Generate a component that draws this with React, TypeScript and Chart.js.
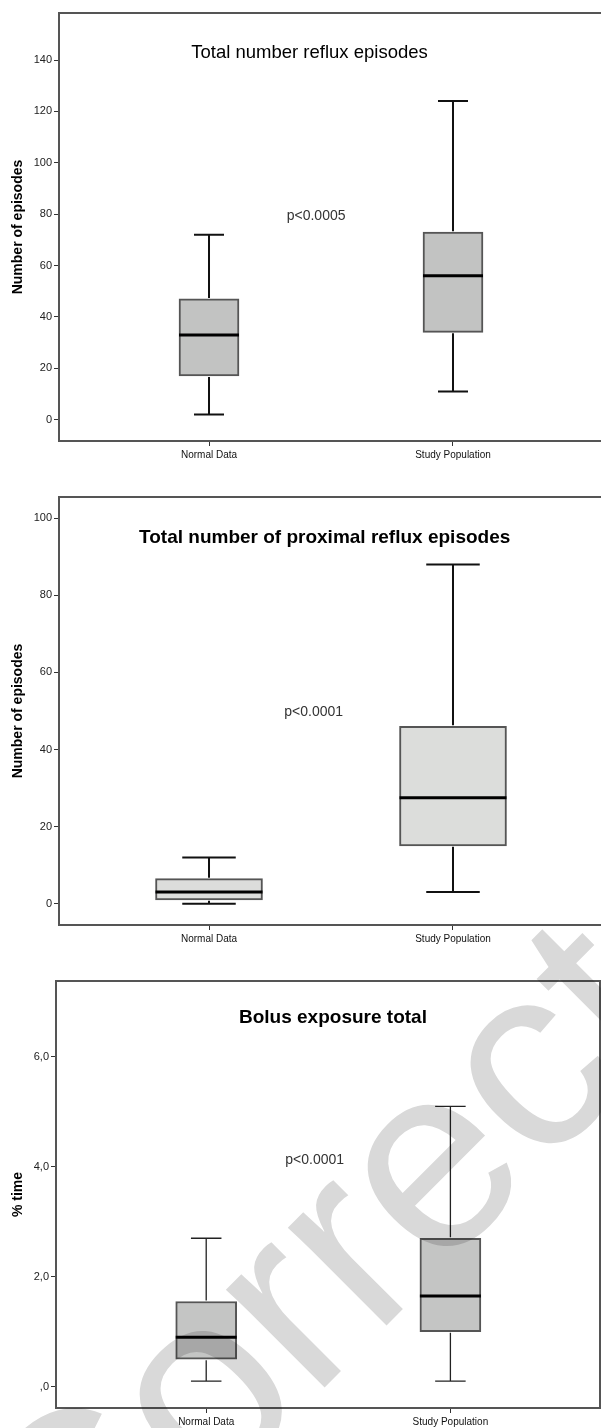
import React, { useEffect, useRef } from 'react';
import { Chart, registerables } from 'chart.js';

Chart.register(...registerables);

// ---------- data ----------
const categories = ['Normal Data', 'Study Population'];

// Panel 1: Total number reflux episodes
const refluxMin = [2, 11];
const refluxQ1 = [17, 34];
const refluxMedian = [33, 56];
const refluxQ3 = [47, 73];
const refluxMax = [72, 124];
const refluxTicks = [0, 20, 40, 60, 80, 100, 120, 140];

// Panel 2: Total number of proximal reflux episodes
const proximalMin = [0, 3];
const proximalQ1 = [1, 15];
const proximalMedian = [3, 27.5];
const proximalQ3 = [6.5, 46];
const proximalMax = [12, 88];
const proximalTicks = [0, 20, 40, 60, 80, 100];

// Panel 3: Bolus exposure total
const bolusMin = [0.1, 0.1];
const bolusQ1 = [0.5, 1.0];
const bolusMedian = [0.9, 1.65];
const bolusQ3 = [1.55, 2.7];
const bolusMax = [2.7, 5.1];
const bolusTicks = [0, 2, 4, 6];
const bolusTickLabels = [',0', '2,0', '4,0', '6,0'];

const FONT = '"Liberation Sans", Arial, sans-serif';

type Panel = {
  top: number;
  height: number;
  yAxisWidth: number;
  xAxisHeight: number;
  padTop: number;
  padRight: number;
  xMin: number;
  xMax: number;
  yMin: number;
  yMax: number;
  ticks: number[];
  tickLabels?: string[];
  yTitle: string;
  title: string;
  titleBold: boolean;
  titleX: number;
  titleY: number;
  pText: string;
  pX: number;
  pY: number;
  min: number[];
  q1: number[];
  median: number[];
  q3: number[];
  max: number[];
  fill: string;
  boxWidth: number;
  whiskerWidth: number;
  whiskerColor: string;
  rightBorder: boolean;
  watermark: boolean;
};

const panels: Panel[] = [
  {
    top: 0, height: 470, yAxisWidth: 59, xAxisHeight: 29, padTop: 13, padRight: 0,
    xMin: 0.3852, xMax: 2.6066, yMin: -8.3, yMax: 158.3,
    ticks: refluxTicks, yTitle: 'Number of episodes',
    title: 'Total number reflux episodes', titleBold: false, titleX: 1.412, titleY: 142.6,
    pText: 'p<0.0005', pX: 1.439, pY: 79.3,
    min: refluxMin, q1: refluxQ1, median: refluxMedian, q3: refluxQ3, max: refluxMax,
    fill: '#c2c3c2', boxWidth: 60, whiskerWidth: 2, whiskerColor: '#111',
    rightBorder: false, watermark: false,
  },
  {
    top: 470, height: 480, yAxisWidth: 59, xAxisHeight: 25, padTop: 27, padRight: 0,
    xMin: 0.3852, xMax: 2.6066, yMin: -5.53, yMax: 105.5,
    ticks: proximalTicks, yTitle: 'Number of episodes',
    title: 'Total number of proximal reflux episodes', titleBold: true, titleX: 1.474, titleY: 94.8,
    pText: 'p<0.0001', pX: 1.429, pY: 49.6,
    min: proximalMin, q1: proximalQ1, median: proximalMedian, q3: proximalQ3, max: proximalMax,
    fill: '#dcdddb', boxWidth: 107, whiskerWidth: 2, whiskerColor: '#111',
    rightBorder: false, watermark: false,
  },
  {
    top: 900, height: 528, yAxisWidth: 56, xAxisHeight: 20, padTop: 81, padRight: 1,
    xMin: 0.3849, xMax: 2.6126, yMin: -0.388, yMax: 7.38,
    ticks: bolusTicks, tickLabels: bolusTickLabels, yTitle: '% time',
    title: 'Bolus exposure total', titleBold: true, titleX: 1.519, titleY: 6.71,
    pText: 'p<0.0001', pX: 1.444, pY: 4.13,
    min: bolusMin, q1: bolusQ1, median: bolusMedian, q3: bolusQ3, max: bolusMax,
    fill: '#c4c5c4', boxWidth: 61, whiskerWidth: 1.3, whiskerColor: '#222',
    rightBorder: true, watermark: true,
  },
];

function makeChart(canvas: HTMLCanvasElement, p: Panel) {
  const framePlugin = {
    id: 'frame',
    beforeDatasetsDraw(chart: any) {
      const { ctx, chartArea: a } = chart;
      ctx.save();
      ctx.strokeStyle = '#555';
      ctx.lineWidth = 2;
      ctx.beginPath();
      ctx.moveTo(a.left, a.top);
      ctx.lineTo(a.right + (p.rightBorder ? 0 : 5), a.top);
      ctx.moveTo(a.left, a.top - 1);
      ctx.lineTo(a.left, a.bottom + 1);
      ctx.moveTo(a.left, a.bottom);
      ctx.lineTo(a.right + (p.rightBorder ? 0 : 5), a.bottom);
      if (p.rightBorder) {
        ctx.moveTo(a.right, a.top - 1);
        ctx.lineTo(a.right, a.bottom + 1);
      }
      ctx.stroke();
      ctx.restore();
    },
  };

  const whiskerPlugin = {
    id: 'whiskers',
    afterDatasetsDraw(chart: any) {
      const { ctx } = chart;
      const y = chart.scales.y;
      const meta = chart.getDatasetMeta(0);
      meta.data.forEach((el: any, i: number) => {
        const props = el.getProps(['x', 'width'], true);
        const cx = props.x;
        const half = props.width / 2;
        const cap = props.width / 4;
        const yMaxPx = y.getPixelForValue(p.max[i]);
        const yMinPx = y.getPixelForValue(p.min[i]);
        ctx.save();
        ctx.strokeStyle = p.whiskerColor;
        ctx.lineWidth = p.whiskerWidth;
        ctx.beginPath();
        ctx.moveTo(cx, y.getPixelForValue(p.q3[i]) - 1);
        ctx.lineTo(cx, yMaxPx);
        ctx.moveTo(cx, y.getPixelForValue(p.q1[i]) + 1);
        ctx.lineTo(cx, yMinPx);
        ctx.moveTo(cx - cap, yMaxPx);
        ctx.lineTo(cx + cap, yMaxPx);
        ctx.moveTo(cx - cap, yMinPx);
        ctx.lineTo(cx + cap, yMinPx);
        ctx.stroke();
        ctx.strokeStyle = '#000';
        ctx.lineWidth = 3;
        ctx.beginPath();
        const ym = y.getPixelForValue(p.median[i]);
        ctx.moveTo(cx - half, ym);
        ctx.lineTo(cx + half, ym);
        ctx.stroke();
        ctx.restore();
      });
    },
  };

  const textPlugin = {
    id: 'texts',
    afterDraw(chart: any) {
      const { ctx } = chart;
      const x = chart.scales.x;
      const y = chart.scales.y;
      ctx.save();
      ctx.textAlign = 'center';
      ctx.textBaseline = 'middle';
      ctx.fillStyle = '#000';
      ctx.font = `${p.titleBold ? 'bold ' : ''}${p.titleBold ? 19 : 18.5}px ${FONT}`;
      ctx.fillText(p.title, x.getPixelForValue(p.titleX), y.getPixelForValue(p.titleY));
      ctx.fillStyle = '#333';
      ctx.font = `14px ${FONT}`;
      ctx.fillText(p.pText, x.getPixelForValue(p.pX), y.getPixelForValue(p.pY));
      ctx.restore();
    },
  };

  const watermarkPlugin = {
    id: 'watermark',
    afterDraw(chart: any) {
      if (!p.watermark) return;
      const { ctx } = chart;
      ctx.save();
      ctx.globalCompositeOperation = 'multiply';
      ctx.fillStyle = '#d9d9d9';
      ctx.font = `263px ${FONT}`;
      ctx.textAlign = 'left';
      ctx.textBaseline = 'alphabetic';
      ctx.translate(74, 1638 - p.top);
      ctx.rotate((-45 * Math.PI) / 180);
      ctx.fillText('Corrected', 0, 0);
      ctx.restore();
    },
  };

  return new Chart(canvas, {
    type: 'bar',
    data: {
      datasets: [
        {
          data: categories.map((_, i) => ({ x: i + 1, y: [p.q1[i], p.q3[i]] })) as any,
          backgroundColor: p.fill,
          borderColor: '#555',
          borderWidth: 2,
          borderSkipped: false,
          barThickness: p.boxWidth,
        },
      ],
    },
    options: {
      responsive: false,
      animation: false,
      devicePixelRatio: 1,
      layout: { padding: { top: p.padTop, right: p.padRight, left: 0, bottom: 0 } },
      plugins: { legend: { display: false }, tooltip: { enabled: false }, title: { display: false } },
      scales: {
        x: {
          type: 'linear',
          min: p.xMin,
          max: p.xMax,
          offset: false,
          afterBuildTicks: (s: any) => {
            s.ticks = categories.map((_, i) => ({ value: i + 1 }));
          },
          afterFit: (s: any) => {
            s.height = p.xAxisHeight;
          },
          ticks: {
            callback: (v: any) => categories[Math.round(Number(v)) - 1] ?? '',
            font: { size: 10, family: FONT },
            color: '#111',
            padding: 3,
            maxRotation: 0,
            autoSkip: false,
          },
          grid: { offset: false, drawOnChartArea: false, drawTicks: true, tickLength: 5, color: '#333', lineWidth: 1 },
          border: { display: false },
        },
        y: {
          type: 'linear',
          min: p.yMin,
          max: p.yMax,
          beginAtZero: false,
          afterBuildTicks: (s: any) => {
            s.ticks = p.ticks.map((v) => ({ value: v }));
          },
          afterFit: (s: any) => {
            s.width = p.yAxisWidth;
          },
          ticks: {
            callback: (v: any) => {
              const idx = p.ticks.indexOf(Number(v));
              if (p.tickLabels) return idx >= 0 ? p.tickLabels[idx] : '';
              return String(v);
            },
            font: { size: 11, family: FONT },
            color: '#222',
            padding: 2,
            autoSkip: false,
          },
          grid: { drawOnChartArea: false, drawTicks: true, tickLength: 5, color: '#333', lineWidth: 1 },
          border: { display: false },
          title: {
            display: true,
            text: p.yTitle,
            color: '#000',
            font: { size: 14, weight: 'bold', family: FONT },
            padding: { top: 10, bottom: 0 },
          },
        },
      },
    } as any,
    plugins: [framePlugin, whiskerPlugin, textPlugin, watermarkPlugin],
  });
}

function ChartPanel({ p }: { p: Panel }) {
  const ref = useRef<HTMLCanvasElement>(null);
  useEffect(() => {
    const chart = makeChart(ref.current as HTMLCanvasElement, p);
    return () => chart.destroy();
  }, [p]);
  return (
    <canvas
      ref={ref}
      width={601}
      height={p.height}
      style={{ position: 'absolute', left: 0, top: p.top, width: 601, height: p.height, display: 'block' }}
    />
  );
}

export default function App() {
  return (
    <div style={{ position: 'absolute', left: 0, top: 0, width: 601, height: 1428, background: '#fff', overflow: 'hidden' }}>
      {panels.map((p, i) => (
        <ChartPanel key={i} p={p} />
      ))}
    </div>
  );
}
